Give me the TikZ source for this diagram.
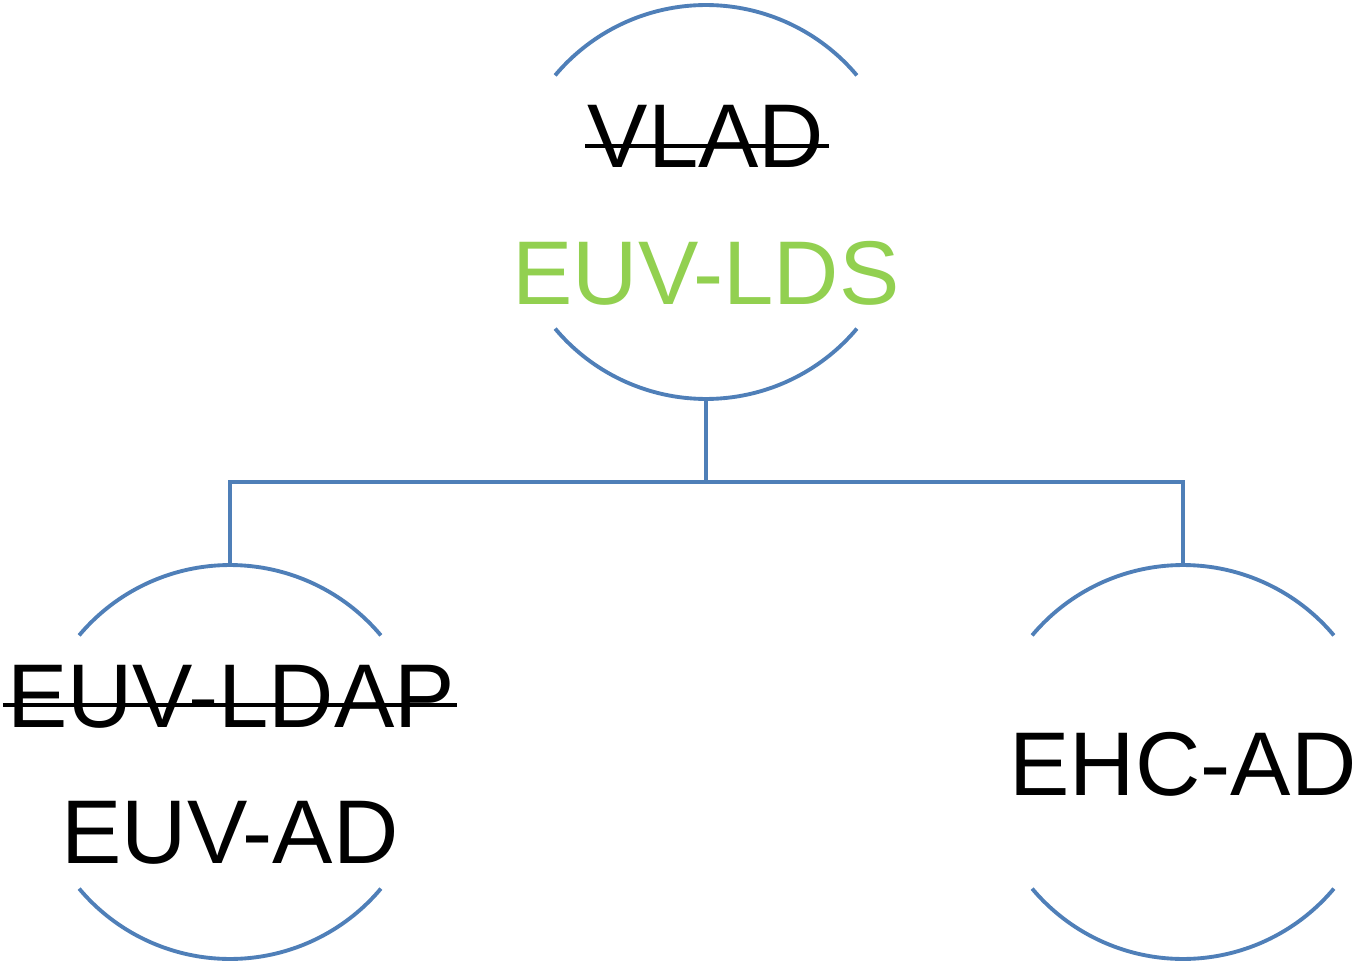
\documentclass[tikz,border=0pt]{standalone}
\usepackage{fontspec}
\setmainfont{Liberation Sans}
\usepackage{xcolor}
\usetikzlibrary{calc}

\definecolor{lineblue}{HTML}{4F7FB8}
\definecolor{newgreen}{HTML}{92D050}

\tikzset{
  ring/.style={circle,minimum size=7.88cm,inner sep=0pt,outer sep=0pt},
  edge/.style={lineblue,line width=2.2pt},
  lbl/.style={inner sep=0pt,anchor=base,font=\fontsize{51.5}{60}\selectfont},
  strike/.style={black,line width=2.1pt}
}

\begin{document}
\begin{tikzpicture}[x=0.02cm,y=0.02cm]
\useasboundingbox (0,0) rectangle (1359,965);

% Rings
\node[ring] (lds) at (706,763) {};
\node[ring] (euvad) at (230,203) {};
\node[ring] (ehcad) at (1183,203) {};
\foreach \n in {lds,euvad,ehcad}{
  \draw[edge] (\n.40) arc[start angle=40,end angle=140,radius=3.94cm];
  \draw[edge] (\n.220) arc[start angle=220,end angle=320,radius=3.94cm];
}

% Tree lines
\coordinate (split) at (706,483);
\draw[edge] (lds.south) -- (split);
\draw[edge] (split) -| (euvad.north);
\draw[edge] (split) -| (ehcad.north);

% Labels
\node[lbl] (vlad) at (706,797) {VLAD};
\node[lbl,newgreen] (ldsname) at (706,661) {EUV-LDS};
\node[lbl] (ldap) at (231,238) {EUV-LDAP};
\node[lbl] (adname) at (230,102) {EUV-AD};
\node[lbl] (ehcname) at (1183,170) {EHC-AD};

% Strike-through
\draw[strike] ($(vlad.base west)+(-2,22)$) -- ($(vlad.base east)+(4,22)$);
\draw[strike] ($(ldap.base west)+(-4,22)$) -- ($(ldap.base east)+(2,22)$);
\end{tikzpicture}
\end{document}
